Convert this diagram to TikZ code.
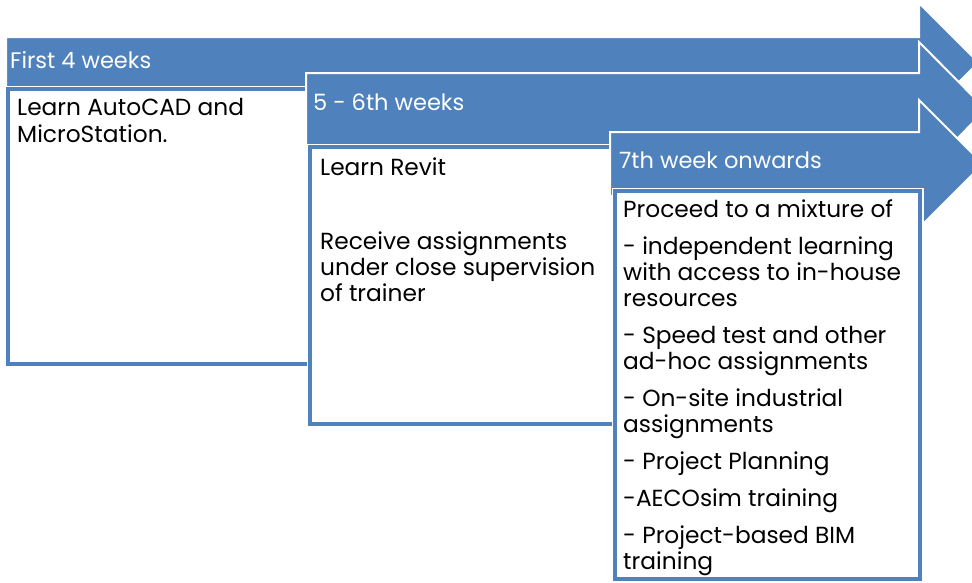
\documentclass[tikz,border=0pt]{standalone}
\usepackage{fontspec}
\setmainfont{Poppins}
\definecolor{ablue}{HTML}{4F81BD}
\tikzset{
  arrowshape/.style={fill=ablue, draw=white, line width=2pt, line join=miter},
  boxshape/.style={fill=white, draw=ablue, line width=4pt},
  boxhalo/.style={draw=white, line width=7pt},
  ttl/.style={anchor=base west, inner sep=0pt, text=white, font=\fontsize{22.5}{26}\selectfont},
  txt/.style={anchor=base west, inner sep=0pt, text=black, font=\fontsize{23.3}{27}\selectfont}
}
\begin{document}
\begin{tikzpicture}[x=1pt,y=-1pt]
\useasboundingbox (0,0) rectangle (972,582);
% arrow 1
\fill[white] (0,0) rectangle (972,582);
\draw[arrowshape] (6,37) -- (919,37) -- (919,3) -- (978.5,62.5) -- (919,122) -- (919,88) -- (6,88) -- cycle;
\draw[boxhalo] (8,89) rectangle (309,364);
\draw[boxshape] (8,89) rectangle (309,364);
\node[ttl] (h1) at (10,68) {First 4 weeks};
\node[txt] (a1) at (17,115) {Learn AutoCAD and};
\node[txt] (a2) at (17,142) {MicroStation.};
% arrow 2
\draw[arrowshape] (306,73) -- (919,73) -- (919,42) -- (986,109.5) -- (919,177) -- (919,146) -- (306,146) -- cycle;
\draw[boxhalo] (310,147) rectangle (614,424);
\draw[boxshape] (310,147) rectangle (614,424);
\node[ttl] (h2) at (313,110) {5 - 6th weeks};
\node[txt] (b1) at (320,175) {Learn Revit};
\node[txt] (b2) at (320,249) {Receive assignments};
\node[txt] (b3) at (320,275) {under close supervision};
\node[txt] (b4) at (320,301) {of trainer};
% arrow 3
\draw[arrowshape] (610,132) -- (919,132) -- (919,100) -- (983,164) -- (919,228) -- (919,196) -- (610,196) -- cycle;
\draw[boxhalo] (615,191) rectangle (920,579);
\draw[boxshape] (615,191) rectangle (920,579);
\node[ttl] (h3) at (619,168) {7th week onwards};
\node[txt] (c1) at (623,217) {Proceed to a mixture of};
\node[txt] (c2) at (623,254) {- independent learning};
\node[txt] (c3) at (623,280) {with access to in-house};
\node[txt] (c4) at (623,306) {resources};
\node[txt] (c5) at (623,343) {- Speed test and other};
\node[txt] (c6) at (623,369) {ad-hoc assignments};
\node[txt] (c7) at (623,406) {- On-site industrial};
\node[txt] (c8) at (623,432) {assignments};
\node[txt] (c9) at (623,469) {- Project Planning};
\node[txt] (c10) at (623,506) {-AECOsim training};
\node[txt] (c11) at (623,543) {- Project-based BIM};
\node[txt] (c12) at (623,569) {training};
\end{tikzpicture}
\end{document}
